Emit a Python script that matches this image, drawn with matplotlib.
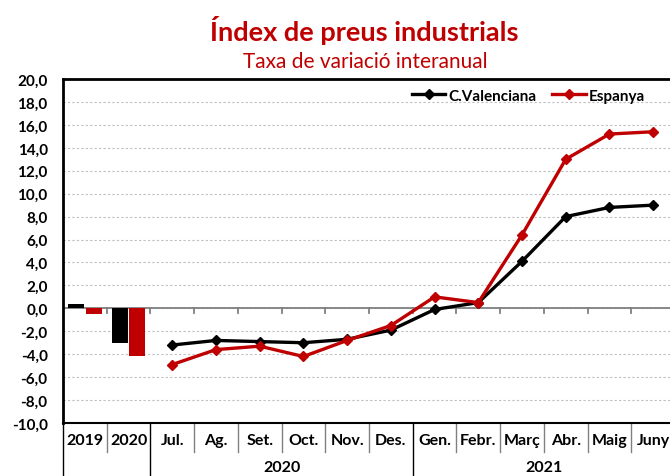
import matplotlib.pyplot as plt
import matplotlib.transforms as mtransforms
from matplotlib.ticker import FuncFormatter

plt.rcParams['font.family'] = ['Lato', 'DejaVu Sans']

categories = ['2019', '2020', 'Jul.', 'Ag.', 'Set.', 'Oct.', 'Nov.', 'Des.',
              'Gen.', 'Febr.', 'Març', 'Abr.', 'Maig', 'Juny']
year_groups = [('2020', 2, 7), ('2021', 8, 13)]

annual_cv = [0.4, -3.0]
annual_es = [-0.5, -4.2]
monthly_cv = [-3.2, -2.8, -2.9, -3.0, -2.7, -1.9, -0.1, 0.5, 4.1, 8.0, 8.8, 9.0]
monthly_es = [-4.9, -3.6, -3.3, -4.2, -2.8, -1.5, 1.0, 0.5, 6.4, 13.0, 15.2, 15.4]

red = '#C00000'
black = '#000000'

fig = plt.figure(figsize=(6.7, 4.77), dpi=100)
ax = fig.add_axes([63 / 670, 53 / 477, 612 / 670, 344 / 477])

# annual bars
xa = range(len(annual_cv))
ax.bar([x - 0.2 for x in xa], annual_cv, width=0.37, color=black, zorder=3)
ax.bar([x + 0.2 for x in xa], annual_es, width=0.37, color=red, zorder=3)

# monthly lines
xm = list(range(2, 2 + len(monthly_cv)))
ax.plot(xm, monthly_cv, color=black, lw=2.4, marker='D', ms=5, label='C.Valenciana', zorder=4)
ax.plot(xm, monthly_es, color=red, lw=2.4, marker='D', ms=5, label='Espanya', zorder=4)

ax.set_xlim(-0.5, len(categories) - 0.5)
ax.set_ylim(-10, 20)
ax.set_yticks(range(-10, 21, 2))
ax.yaxis.set_major_formatter(FuncFormatter(lambda v, p: f'{v:.1f}'.replace('.', ',')))
ax.tick_params(axis='y', length=0, labelsize=11, pad=11)
for lab in ax.get_yticklabels():
    lab.set_fontweight('bold')
ax.set_xticks([])
ax.grid(axis='y', color='#BFBFBF', ls=(0, (2, 2)), lw=0.8, zorder=0)

for side in ['top', 'left']:
    ax.spines[side].set_linewidth(2)
ax.spines['bottom'].set_linewidth(1.5)
ax.spines['right'].set_visible(False)

# zero line with category ticks
ax.axhline(0, color='#808080', lw=1.3, zorder=2)
for i in range(len(categories) - 1):
    ax.plot([i + 0.5, i + 0.5], [0, -0.45], color='#808080', lw=1.3, zorder=2)

# multi-level category axis
trans = mtransforms.blended_transform_factory(ax.transData, ax.transAxes)
for i, c in enumerate(categories):
    ax.text(i, -0.049, c, transform=trans, ha='center', va='center',
            fontsize=11.5, fontweight='bold', clip_on=False)
long_lines = [-0.5, 1.5, 7.5]
for i in range(len(categories)):
    b = i - 0.5
    if b in long_lines:
        ax.plot([b, b], [0, -0.16], transform=trans, color=black, lw=1, clip_on=False)
    else:
        ax.plot([b, b], [0, -0.084], transform=trans, color='#808080', lw=1, clip_on=False)
for name, a, b in year_groups:
    ax.text((a + b) / 2, -0.128, name, transform=trans, ha='center', va='center',
            fontsize=11.5, fontweight='bold', clip_on=False)

ax.legend(loc='upper left', bbox_to_anchor=(0.56, 0.99), ncol=2, frameon=False,
          prop={'weight': 'bold', 'size': 11}, handlelength=2.2, columnspacing=1.0,
          handletextpad=0.2, borderaxespad=0)

fig.text(0.543, 0.937, 'Índex de preus industrials', color=red, fontsize=19.5,
         fontweight='bold', ha='center', va='center')
fig.text(0.545, 0.870, 'Taxa de variació interanual', color=red, fontsize=15,
         ha='center', va='center')

plt.savefig('out.png', dpi=100)
